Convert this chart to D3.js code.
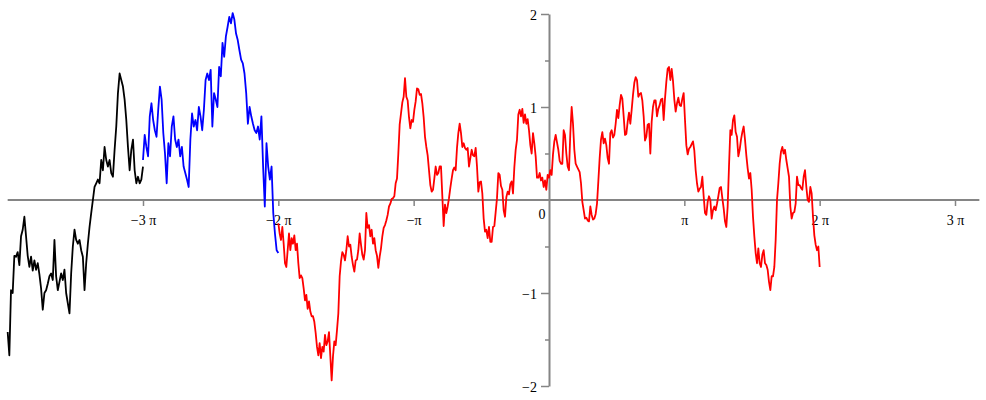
<!DOCTYPE html>
<html><head><meta charset="utf-8">
<script src="https://cdn.jsdelivr.net/npm/d3@7"></script>
<style>body{margin:0;background:#fff}svg{display:block}</style>
</head><body><svg id="c" width="986" height="400"></svg>
<script>
const PI = Math.PI;
// sampled values, evenly spaced over each series' x-span (spans in units of π)
const blackSpan = [-4, -3];
const blackY = [-1.42,-1.67,-0.97,-1.00,-0.60,-0.61,-0.56,-0.70,-0.39,-0.32,
-0.18,-0.39,-0.60,-0.72,-0.61,-0.76,-0.65,-0.75,-0.68,-0.80,
-0.95,-1.18,-1.00,-0.97,-0.90,-0.82,-0.79,-0.86,-0.43,-0.82,
-0.97,-0.88,-0.79,-0.86,-0.75,-1.00,-1.11,-1.22,-0.79,-0.50,
-0.32,-0.43,-0.47,-0.43,-0.54,-0.61,-0.97,-0.68,-0.47,-0.29,
-0.14,0.00,0.14,0.18,0.22,0.18,0.43,0.32,0.57,0.43,
0.36,0.43,0.29,0.25,0.54,0.79,1.15,1.36,1.29,1.22,
1.08,0.86,0.57,0.32,0.54,0.65,0.32,0.18,0.25,0.18,
0.22,0.36];
const blueSpan = [-3, -2];
const blueY = [0.43,0.70,0.57,0.47,0.90,1.04,0.86,0.75,0.68,0.97,
1.22,1.08,0.72,0.50,0.18,0.61,0.47,0.79,0.90,0.65,
0.57,0.65,0.47,0.57,0.36,0.29,0.22,0.14,0.65,0.93,
0.79,0.86,0.75,1.00,0.90,0.75,0.97,1.29,1.36,1.29,
1.40,0.79,1.15,1.08,1.00,1.43,1.33,1.69,1.54,1.76,
1.86,1.97,1.90,2.01,1.94,1.79,1.72,1.61,1.51,1.47,
1.36,1.15,0.82,1.00,0.90,0.82,0.75,0.72,0.79,0.65,
0.90,0.36,-0.07,0.61,0.36,0.22,0.36,-0.14,-0.36,-0.54,
-0.57];
const redSpan = [-2, 2];
const redY = [
-0.25,-0.36,-0.43,-0.29,-0.47,-0.68,-0.72,-0.54,-0.36,-0.54,
-0.41,-0.47,-0.38,-0.54,-0.47,-0.68,-0.84,-0.81,-0.84,-0.95,
-1.08,-1.02,-1.17,-1.09,-1.20,-1.25,-1.25,-1.31,-1.43,-1.58,
-1.67,-1.54,-1.70,-1.58,-1.63,-1.45,-1.56,-1.52,-1.42,-1.68,
-1.94,-1.68,-1.52,-1.56,-1.40,-1.22,-0.82,-0.66,-0.56,-0.59,
-0.65,-0.54,-0.39,-0.50,-0.48,-0.61,-0.70,-0.77,-0.65,-0.64,
-0.54,-0.36,-0.48,-0.59,-0.64,-0.54,-0.14,-0.30,-0.27,-0.39,
-0.32,-0.47,-0.41,-0.54,-0.60,-0.73,-0.61,-0.52,-0.39,-0.30,
-0.27,-0.22,-0.16,-0.07,-0.04,0.01,0.02,0.04,0.18,0.23,
0.50,0.81,0.93,1.05,1.11,1.31,1.11,1.07,0.89,0.77,
0.86,0.84,0.97,1.06,1.20,1.19,1.13,1.14,1.04,0.89,
0.68,0.57,0.48,0.32,0.16,
0.09,0.11,0.23,0.36,0.27,0.29,0.36,0.36,0.04,-0.28,
-0.05,-0.14,-0.07,0.02,0.13,0.23,0.32,0.35,0.32,0.56,
0.72,0.82,0.72,0.57,0.61,0.56,0.54,0.56,0.36,0.45,
0.54,0.48,0.47,0.56,0.36,0.09,0.19,0.20,0.07,-0.20,
-0.34,-0.32,-0.41,-0.29,-0.45,-0.45,-0.29,-0.28,-0.13,0.02,
0.29,0.27,0.15,0.11,-0.11,-0.18,0.03,0.09,0.06,0.17,
0.20,0.07,0.35,0.54,0.65,0.92,0.97,0.90,0.98,0.83,
0.92,0.82,0.87,0.75,0.59,0.50,0.72,0.61,0.47,0.24,
0.24,0.29,0.21,0.24,0.14,0.21,0.11,0.27,0.24,0.32,
0.27,0.49,0.63,0.70,0.62,0.54,0.42,0.39,
0.39,0.75,0.70,0.50,0.36,0.32,0.72,1.00,0.82,0.54,
0.39,0.36,0.33,0.30,0.18,-0.02,-0.11,-0.20,-0.19,-0.22,
-0.23,-0.07,-0.16,-0.21,-0.20,-0.15,-0.04,0.20,0.45,0.65,
0.73,0.61,0.66,0.59,0.45,0.39,0.72,0.75,0.67,0.70,
0.82,0.97,0.88,1.02,1.13,1.09,0.90,0.70,0.71,0.84,
0.94,0.82,0.97,1.13,1.26,1.32,1.29,1.11,1.14,1.15,
1.07,0.90,0.64,0.68,0.81,0.82,0.50,0.84,1.00,1.07,
1.07,0.90,0.98,1.02,1.08,1.09,0.86,1.09,1.27,1.41,
1.43,1.29,1.41,1.28,1.08,0.95,1.04,1.10,1.02,1.01,
1.09,1.15,0.86,0.59,0.49,0.55,0.57,0.60,0.63,0.53,
0.32,0.18,0.09,0.12,0.14,
0.25,0.04,-0.14,-0.16,-0.02,0.04,0.00,-0.20,-0.11,-0.07,
-0.11,-0.04,0.04,0.13,0.14,0.02,-0.09,-0.23,-0.29,-0.07,
0.36,0.75,0.70,0.86,0.91,0.73,0.68,0.47,0.54,0.65,
0.73,0.79,0.65,0.48,0.34,0.23,0.29,0.11,-0.18,-0.39,
-0.57,-0.68,-0.52,-0.68,-0.72,-0.59,-0.54,-0.68,-0.70,-0.75,
-0.88,-0.97,-0.82,-0.82,-0.72,-0.43,0.00,0.18,0.39,0.52,
0.57,0.50,0.54,0.43,0.34,0.25,-0.07,-0.20,-0.14,-0.13,
-0.04,0.25,0.16,0.16,0.13,0.11,0.25,0.32,0.14,0.00,
-0.02,0.14,0.07,-0.18,-0.38,-0.48,-0.54,-0.50,-0.72];

const xTickMultiples = [-3, -2, -1, 1, 2, 3];
const xTickLabels = ["−3 π", "−2 π", "−π", "π", "2 π", "3 π"];
const originLabel = "0";
const yTicks = [-2, -1, 1, 2];
const yTickLabels = ["−2", "−1", "1", "2"];
const yMinorTicks = [-1.5, -0.5, 0.5, 1.5];
const xAxisSpan = [-4, 3.18];

const svg = d3.select("#c");
const x = d3.scaleLinear().domain([-3 * PI, 3 * PI]).range([143, 955]);
const y = d3.scaleLinear().domain([-2, 2]).range([386, 14]);
const axisColor = "#858585";
const font = "'Liberation Serif', 'Times New Roman', serif";

// x axis
svg.append("line")
  .attr("x1", x(xAxisSpan[0] * PI)).attr("x2", x(xAxisSpan[1] * PI))
  .attr("y1", y(0)).attr("y2", y(0))
  .attr("stroke", axisColor).attr("stroke-width", 2);
const gx = svg.append("g").attr("transform", `translate(0,${y(0)})`)
  .call(d3.axisBottom(x).tickValues(xTickMultiples.map(m => m * PI))
    .tickSize(6).tickSizeOuter(0).tickFormat((d, i) => xTickLabels[i]));
gx.select(".domain").remove();
gx.selectAll(".tick line").attr("stroke", axisColor).attr("stroke-width", 1.5);
gx.selectAll(".tick text").attr("y", 15).attr("dy", "0.71em")
  .style("font-family", font).style("font-size", "14px").attr("fill", "#000");
svg.append("text").attr("x", x(0) - 7).attr("y", y(0) + 19)
  .attr("text-anchor", "middle").style("font-family", font).style("font-size", "14px")
  .text(originLabel);

// y axis
const gy = svg.append("g").attr("transform", `translate(${x(0)},0)`)
  .call(d3.axisLeft(y).tickValues(yTicks).tickSize(8).tickSizeOuter(0)
    .tickFormat((d, i) => yTickLabels[i]));
gy.select(".domain").attr("stroke", axisColor).attr("stroke-width", 2);
gy.selectAll(".tick line").attr("stroke", axisColor).attr("stroke-width", 1.5);
gy.selectAll(".tick text").attr("x", -12).attr("dy", "0.4em")
  .style("font-family", font).style("font-size", "14px").attr("fill", "#000");
const gm = svg.append("g").attr("transform", `translate(${x(0)},0)`)
  .call(d3.axisLeft(y).tickValues(yMinorTicks).tickSize(4).tickFormat(""));
gm.select(".domain").remove();
gm.selectAll(".tick line").attr("stroke", axisColor).attr("stroke-width", 1.5);

// series
const line = d3.line().x(d => x(d[0])).y(d => y(d[1]));
function pts(span, vals) {
  const n = vals.length;
  return vals.map((v, i) => [(span[0] + (span[1] - span[0]) * i / (n - 1)) * PI, v]);
}
const series = [
  { span: blackSpan, vals: blackY, color: "#000000" },
  { span: blueSpan, vals: blueY, color: "#0000ff" },
  { span: redSpan, vals: redY, color: "#ff0000" }
];
svg.append("g").selectAll("path").data(series).join("path")
  .attr("d", s => line(pts(s.span, s.vals)))
  .attr("fill", "none").attr("stroke", s => s.color)
  .attr("stroke-width", 1.8).attr("stroke-linejoin", "round");
</script></body></html>
